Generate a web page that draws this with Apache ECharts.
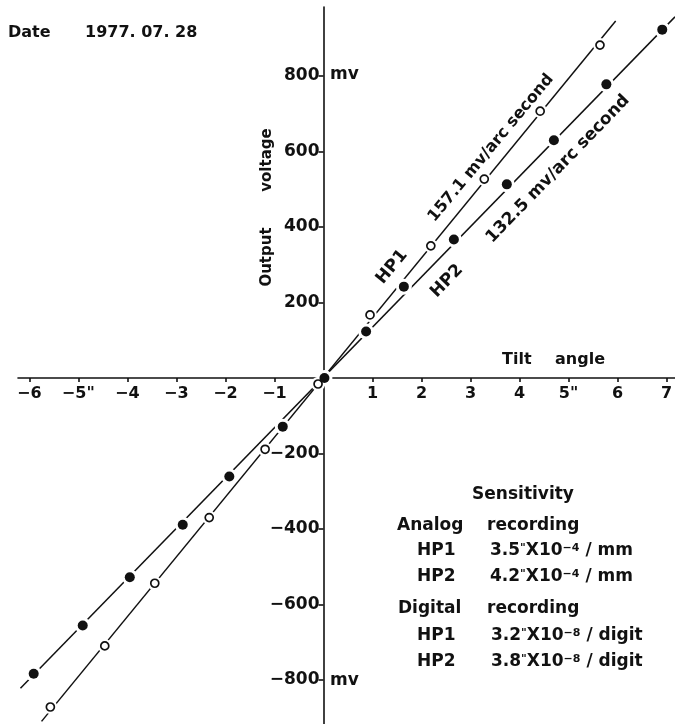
<!DOCTYPE html>
<html>
<head>
<meta charset="utf-8">
<title>Tilt angle vs output voltage</title>
<script src="https://cdn.jsdelivr.net/npm/echarts@6.0.0/dist/echarts.min.js"></script>
<style>
  html, body { margin: 0; padding: 0; background: #fff; }
  #main { width: 675px; height: 724px; }
</style>
</head>
<body>
<div id="main"></div>
<script>
// measured points: tilt angle (arc second) / output voltage (mv)
var hp1Tilt = [-5.57, -4.46, -3.44, -2.33, -1.19, -0.11, 0.95, 2.19, 3.28, 4.42, 5.64];
var hp1Volt = [-872, -710, -544, -370, -189, -16, 167, 350, 527, 707, 882];
var hp2Tilt = [-5.91, -4.91, -3.95, -2.87, -1.92, -0.83, 0.02, 0.87, 1.64, 2.66, 3.74, 4.70, 5.77, 6.91];
var hp2Volt = [-784, -656, -528, -389, -261, -129, 0, 123, 242, 367, 513, 630, 778, 923];

// drawn calibration lines (end points as seen on the plot)
var hp1LineTilt = [-5.75, 5.96];
var hp1LineVolt = [-910, 946];
var hp2LineTilt = [-6.18, 7.17];
var hp2LineVolt = [-822, 957];

// ticks
var xTicks = [-6, -5, -4, -3, -2, -1, 1, 2, 3, 4, 5, 6, 7];
var xTickLabels = ['\u22126', '\u22125"', '\u22124', '\u22123', '\u22122', '\u22121', '1', '2', '3', '4', '5"', '6', '7'];
var yTicks = [-800, -600, -400, -200, 200, 400, 600, 800];
var yTickLabels = ['\u2212800', '\u2212600', '\u2212400', '\u2212200', '200', '400', '600', '800'];

var FONT = 'DejaVu Sans';
var INK = '#111';

function pairs(xs, ys) {
	var out = [];
	for (var i = 0; i < xs.length; i++) {
		out.push([xs[i], ys[i]]);
	}
	return out;
}

function txt(x, y, text, size, rot, align) {
	return {
		type: 'text',
		x: x,
		y: y,
		rotation: rot || 0,
		z: 10,
		style: {
			text: text,
			fontFamily: FONT,
			fontSize: size,
			fontWeight: 'bold',
			fill: INK,
			align: align || 'left',
			verticalAlign: 'middle'
		}
	};
}

// value with arc-second mark and power of ten
function sens(x, y, text) {
	var el = txt(x, y, text, 17);
	el.style.rich = {
		q: { fontFamily: FONT, fontWeight: 'bold', fontSize: 11, lineHeight: 10, verticalAlign: 'top', fill: INK },
		e: { fontFamily: FONT, fontWeight: 'bold', fontSize: 11, lineHeight: 10, verticalAlign: 'top', fill: INK }
	};
	return el;
}

var myChart = echarts.init(document.getElementById('main'));

// axes cross at the origin: x axis line at y=378, y axis line at x=323.5
var option = {
	backgroundColor: '#fff',
	animation: false,
	grid: {
		left: 18,
		right: 0,
		top: 7,
		bottom: 0,
		containLabel: false,
		outerBoundsMode: 'none'
	},
	xAxis: {
		type: 'value',
		position: 'bottom',
		offset: -346,
		min: -6.23,
		max: 7.17,
		axisLine: { onZero: false, lineStyle: { color: INK, width: 1.6 } },
		axisTick: { show: true, length: 4, customValues: xTicks, lineStyle: { color: INK, width: 1.6 } },
		axisLabel: {
			customValues: xTicks,
			margin: 8,
			fontFamily: FONT,
			fontWeight: 'bold',
			fontSize: 16,
			color: INK,
			formatter: function (v) {
				var i = xTicks.indexOf(v);
				return i < 0 ? '' : xTickLabels[i];
			}
		},
		splitLine: { show: false }
	},
	yAxis: {
		type: 'value',
		position: 'left',
		offset: -305.5,
		min: -917,
		max: 983,
		axisLine: { onZero: false, lineStyle: { color: INK, width: 1.6 } },
		axisTick: { show: true, length: 5, customValues: yTicks, lineStyle: { color: INK, width: 1.6 } },
		axisLabel: {
			customValues: yTicks,
			margin: 4,
			fontFamily: FONT,
			fontWeight: 'bold',
			fontSize: 17,
			color: INK,
			formatter: function (v) {
				var i = yTicks.indexOf(v);
				return i < 0 ? '' : yTickLabels[i];
			}
		},
		splitLine: { show: false }
	},
	series: [
		{
			name: 'HP1 line',
			type: 'line',
			data: pairs(hp1LineTilt, hp1LineVolt),
			symbol: 'none',
			silent: true,
			z: 2,
			lineStyle: { color: INK, width: 1.5 }
		},
		{
			name: 'HP2 line',
			type: 'line',
			data: pairs(hp2LineTilt, hp2LineVolt),
			symbol: 'none',
			silent: true,
			z: 2,
			lineStyle: { color: INK, width: 1.5 }
		},
		// white rings so the line breaks around each point
		{
			type: 'scatter',
			data: pairs(hp1Tilt, hp1Volt),
			symbolSize: 14,
			silent: true,
			z: 3,
			itemStyle: { color: '#fff', opacity: 1 }
		},
		{
			type: 'scatter',
			data: pairs(hp2Tilt, hp2Volt),
			symbolSize: 16,
			silent: true,
			z: 3,
			itemStyle: { color: '#fff', opacity: 1 }
		},
		{
			name: 'HP1',
			type: 'scatter',
			data: pairs(hp1Tilt, hp1Volt),
			symbolSize: 8,
			z: 4,
			itemStyle: { color: '#fff', borderColor: INK, borderWidth: 1.7, opacity: 1 }
		},
		{
			name: 'HP2',
			type: 'scatter',
			data: pairs(hp2Tilt, hp2Volt),
			symbolSize: 10,
			z: 4,
			itemStyle: { color: INK, opacity: 1 }
		}
	],
	graphic: [
		txt(8, 33, 'Date', 16),
		txt(85, 33, '1977. 07. 28', 16),
		txt(330, 75, 'mv', 17),
		txt(330, 681, 'mv', 17),
		txt(267, 257, 'Output', 15, Math.PI / 2, 'center'),
		txt(267, 160, 'voltage', 15, Math.PI / 2, 'center'),
		txt(502, 360, 'Tilt', 16),
		txt(555, 360, 'angle', 16),
		txt(392, 267, 'HP1', 17, 0.878, 'center'),
		txt(491, 148, '157.1 mv/arc second', 16, 0.878, 'center'),
		txt(447, 281, 'HP2', 17, 0.803, 'center'),
		txt(558, 169, '132.5 mv/arc second', 17, 0.803, 'center'),
		txt(523, 495, 'Sensitivity', 17, 0, 'center'),
		txt(397, 526, 'Analog', 17),
		txt(487, 526, 'recording', 17),
		txt(417, 551, 'HP1', 17),
		sens(490, 551, '3.5{q|"}X10{e|\u22124} / mm'),
		txt(417, 577, 'HP2', 17),
		sens(490, 577, '4.2{q|"}X10{e|\u22124} / mm'),
		txt(398, 609, 'Digital', 17),
		txt(487, 609, 'recording', 17),
		txt(417, 636, 'HP1', 17),
		sens(491, 636, '3.2{q|"}X10{e|\u22128} / digit'),
		txt(417, 662, 'HP2', 17),
		sens(491, 662, '3.8{q|"}X10{e|\u22128} / digit')
	]
};

myChart.setOption(option);
</script>
</body>
</html>
